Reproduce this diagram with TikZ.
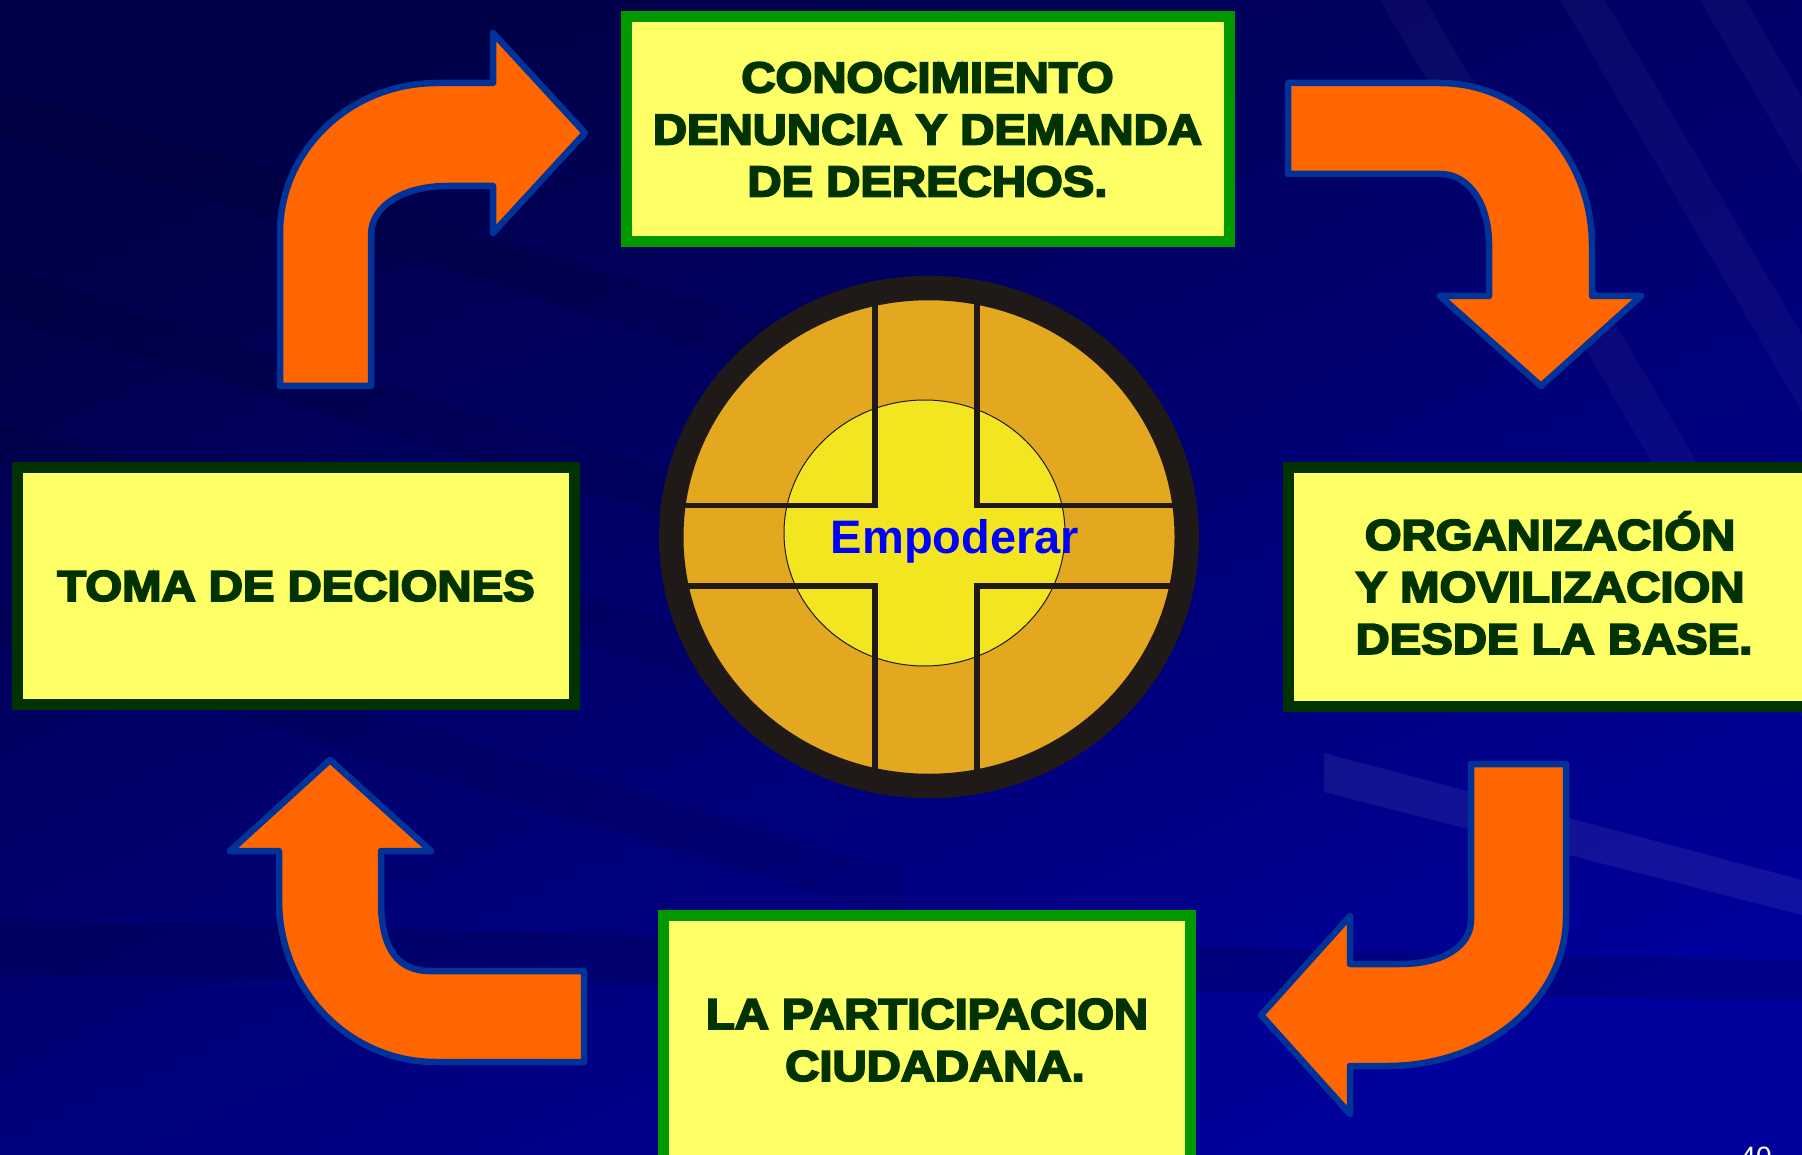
\documentclass[tikz,border=0pt]{standalone}
\usepackage{fontspec}
\setmainfont{Liberation Sans}
\newfontfamily\heavyfont{Liberation Sans}[BoldFeatures={FakeBold=4.5,FakeStretch=1.1}]
\usetikzlibrary{shapes.geometric}

\definecolor{bgnavy}{RGB}{0,0,72}
\definecolor{bgblue}{RGB}{0,0,155}
\definecolor{arroworange}{RGB}{255,102,0}
\definecolor{arrowblue}{RGB}{0,51,153}
\definecolor{boxyellow}{RGB}{255,255,102}
\definecolor{boxgreen}{RGB}{0,153,0}
\definecolor{boxdark}{RGB}{0,51,0}
\definecolor{ringbrown}{RGB}{31,26,23}
\definecolor{discorange}{RGB}{227,168,32}
\definecolor{discyellow}{RGB}{243,230,32}

\begin{document}
\begin{tikzpicture}[x=1pt, y=-1pt,
   box/.style={fill=boxyellow, line width=11pt, inner sep=0pt, align=center, text=boxdark,
      font=\heavyfont\bfseries\fontsize{43}{52}\selectfont},
   bent/.style={fill=arroworange, draw=arrowblue, line width=6.5pt, line join=round},
   crossline/.style={draw=ringbrown, line width=5.5pt}]

   \useasboundingbox (0,0) rectangle (1802,1155);
   \shade[top color=bgnavy, bottom color=bgblue, shading angle=25] (0,0) rectangle (1802,1155);
   \foreach \y in {90,270,420,600}
      \fill[black, opacity=0.07] (0,\y) -- (900,\y+270) -- (900,\y+320) -- (0,\y+45) -- cycle;
   \foreach \x in {1380,1560,1700}
      \fill[white, opacity=0.035] (\x,0) -- (\x+45,0) -- (\x+745,1190) -- (\x+700,1190) -- cycle;
   \fill[black, opacity=0.12] (0,921) -- (1802,960) -- (1802,1000) -- (0,975) -- cycle;
   \fill[white, opacity=0.07] (1324,753) -- (1802,880) -- (1802,915) -- (1324,792) -- cycle;

   \draw[bent] (280,386) -- (280,233) .. controls (280,150) and (350,83) .. (437,83) -- (493,83)
      -- (493,33) -- (585,133) -- (493,233) -- (493,186) -- (447,186)
      .. controls (405,186) and (371,205) .. (371,235) -- (371,386) -- cycle;
   \draw[bent] (1288,83) -- (1440,83) .. controls (1524,83) and (1592,156) .. (1592,245) -- (1592,296)
      -- (1641,296) -- (1541,386) -- (1440,296) -- (1489,296) -- (1489,245)
      .. controls (1489,205) and (1470,174) .. (1440,174) -- (1288,174) -- cycle;
   \draw[bent] (1471,764) -- (1566,764) -- (1566,917) .. controls (1566,1000) and (1486,1066) .. (1388,1066)
      -- (1350,1066) -- (1350,1114) -- (1261,1015) -- (1350,916) -- (1350,964) -- (1400,964)
      .. controls (1445,964) and (1471,945) .. (1471,920) -- cycle;
   \draw[bent] (584,971) -- (584,1062) -- (436,1062) .. controls (349,1062) and (279,990) .. (279,900)
      -- (279,851) -- (230,851) -- (330,760) -- (431,851) -- (381,851) -- (381,900)
      .. controls (381,945) and (395,971) .. (430,971) -- cycle;

   \node (conocimiento) [box, draw=boxgreen, minimum width=603, minimum height=225] at (927.5,129.5)
      {CONOCIMIENTO\\DENUNCIA Y DEMANDA\\DE DERECHOS.};
   \node (organizacion) [box, draw=boxdark, minimum width=524, minimum height=239] at (1550,587)
      {ORGANIZACI\smash{Ó}N\\Y MOVILIZACION\\\hspace*{8pt}DESDE LA BASE.};
   \node (participacion) [box, draw=boxgreen, minimum width=527.5, minimum height=249] at (927,1040)
      {LA PARTICIPACION\\\hspace*{16pt}CIUDADANA.};
   \node (toma) [box, draw=boxdark, minimum width=557.5, minimum height=237] at (296,586)
      {TOMA DE DECIONES};

   \fill[discorange] (929,537) ellipse [x radius=258, y radius=249];
   \draw[ringbrown, line width=1pt, fill=discyellow] (924.5,533) ellipse [x radius=140.5, y radius=133];
   \draw[crossline] (875,290) -- (875,505.6) -- (670,505.6);
   \draw[crossline] (977,290) -- (977,505.6) -- (1190,505.6);
   \draw[crossline] (875,785) -- (875,586) -- (670,586);
   \draw[crossline] (977,785) -- (977,586) -- (1190,586);
   \draw[ringbrown, line width=24.5pt] (929,537) ellipse [x radius=257.75, y radius=249];

   \node (empoderar) [anchor=base, text=blue, font=\bfseries\fontsize{47}{47}\selectfont] at (955,553) {Empoderar};
   \node (pagina) [anchor=north, inner sep=0pt, text=white, font=\fontsize{28}{28}\selectfont] at (1756,1147) {40};
\end{tikzpicture}
\end{document}
